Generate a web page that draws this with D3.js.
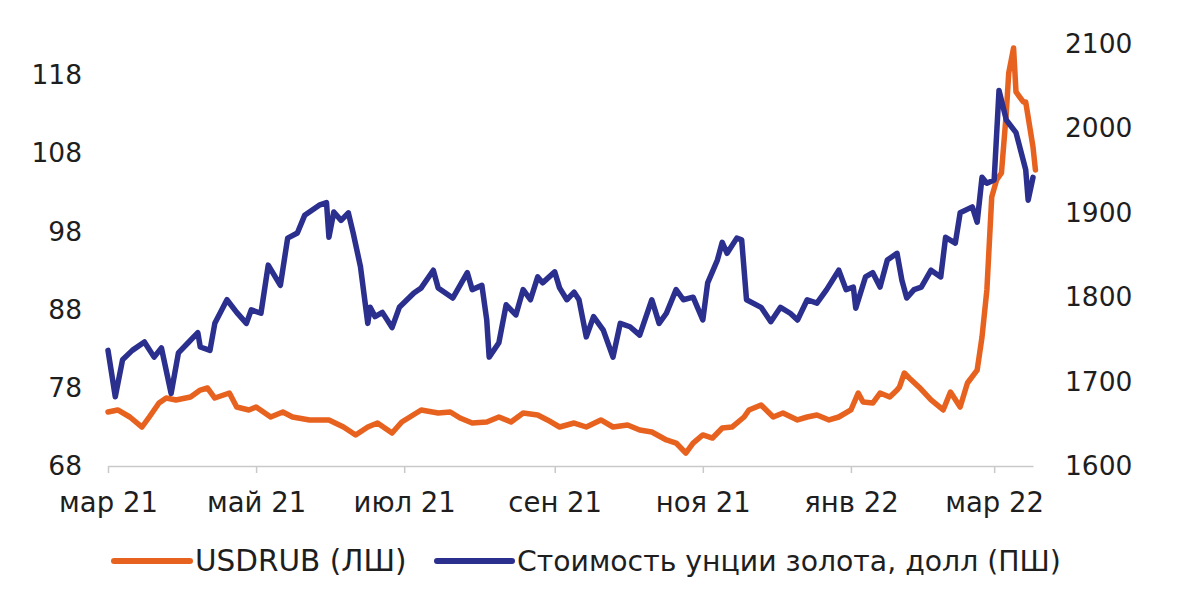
<!DOCTYPE html>
<html><head><meta charset="utf-8">
<script src="https://cdn.jsdelivr.net/npm/d3@7"></script>
<style>
body{margin:0;background:#fff;}
svg text{font-family:"DejaVu Sans",Verdana,sans-serif;fill:#1e1e1e;}
</style>
</head><body>
<svg id="chart" width="1200" height="592"></svg>
<script>
// ---- data ----
const goldDates = ["2021-03-01","2021-03-04","2021-03-07","2021-03-11","2021-03-16","2021-03-20","2021-03-23","2021-03-27","2021-03-30","2021-04-03","2021-04-07","2021-04-08","2021-04-12","2021-04-14","2021-04-19","2021-04-23","2021-04-27","2021-04-29","2021-05-03","2021-05-06","2021-05-11","2021-05-14","2021-05-18","2021-05-21","2021-05-24","2021-05-27","2021-05-30","2021-05-31","2021-06-02","2021-06-05","2021-06-08","2021-06-10","2021-06-13","2021-06-16","2021-06-17","2021-06-19","2021-06-22","2021-06-26","2021-06-29","2021-07-05","2021-07-08","2021-07-13","2021-07-15","2021-07-21","2021-07-27","2021-07-29","2021-08-02","2021-08-04","2021-08-05","2021-08-09","2021-08-12","2021-08-16","2021-08-19","2021-08-22","2021-08-25","2021-08-27","2021-09-01","2021-09-03","2021-09-06","2021-09-09","2021-09-11","2021-09-14","2021-09-17","2021-09-21","2021-09-25","2021-09-28","2021-10-02","2021-10-06","2021-10-11","2021-10-14","2021-10-17","2021-10-21","2021-10-24","2021-10-28","2021-11-01","2021-11-03","2021-11-07","2021-11-09","2021-11-11","2021-11-15","2021-11-17","2021-11-19","2021-11-25","2021-11-29","2021-12-03","2021-12-07","2021-12-10","2021-12-14","2021-12-18","2021-12-22","2021-12-27","2021-12-30","2022-01-02","2022-01-03","2022-01-07","2022-01-10","2022-01-13","2022-01-16","2022-01-20","2022-01-22","2022-01-24","2022-01-27","2022-01-30","2022-02-03","2022-02-07","2022-02-09","2022-02-13","2022-02-15","2022-02-20","2022-02-22","2022-02-24","2022-02-26","2022-03-01","2022-03-03","2022-03-06","2022-03-10","2022-03-14","2022-03-15","2022-03-17"];
const goldValues = [1737,1682,1726,1737,1747,1729,1740,1686,1734,1746,1758,1741,1737,1769,1797,1782,1769,1785,1781,1838,1814,1870,1876,1897,1903,1909,1912,1871,1901,1891,1900,1876,1836,1769,1788,1777,1782,1764,1788,1805,1811,1832,1811,1799,1829,1809,1814,1773,1729,1746,1791,1779,1809,1797,1824,1817,1830,1811,1797,1806,1797,1753,1777,1761,1729,1769,1765,1755,1797,1769,1781,1809,1797,1800,1773,1817,1844,1865,1852,1870,1868,1797,1788,1771,1788,1781,1773,1797,1793,1809,1832,1809,1812,1787,1824,1829,1812,1844,1852,1820,1799,1809,1812,1832,1824,1871,1864,1900,1907,1889,1942,1935,1939,2045,2010,1995,1951,1915,1942];

const rubDates = ["2021-03-01","2021-03-05","2021-03-10","2021-03-15","2021-03-18","2021-03-22","2021-03-25","2021-03-29","2021-04-04","2021-04-08","2021-04-11","2021-04-14","2021-04-20","2021-04-23","2021-04-28","2021-05-01","2021-05-07","2021-05-12","2021-05-16","2021-05-23","2021-05-31","2021-06-06","2021-06-11","2021-06-16","2021-06-20","2021-06-26","2021-06-30","2021-07-08","2021-07-15","2021-07-20","2021-07-24","2021-07-29","2021-08-04","2021-08-09","2021-08-14","2021-08-19","2021-08-25","2021-08-29","2021-09-03","2021-09-09","2021-09-14","2021-09-20","2021-09-25","2021-10-01","2021-10-06","2021-10-11","2021-10-17","2021-10-21","2021-10-25","2021-10-28","2021-11-01","2021-11-05","2021-11-09","2021-11-13","2021-11-18","2021-11-20","2021-11-25","2021-11-30","2021-12-04","2021-12-10","2021-12-14","2021-12-18","2021-12-23","2021-12-27","2022-01-01","2022-01-04","2022-01-06","2022-01-10","2022-01-13","2022-01-17","2022-01-20","2022-01-21","2022-01-23","2022-01-25","2022-01-29","2022-02-03","2022-02-08","2022-02-11","2022-02-15","2022-02-18","2022-02-22","2022-02-24","2022-02-26","2022-02-28","2022-03-02","2022-03-04","2022-03-06","2022-03-07","2022-03-09","2022-03-10","2022-03-13","2022-03-14","2022-03-17","2022-03-18"];
const rubValues = [74.91,75.17,74.27,72.99,74.27,76.06,76.70,76.45,76.83,77.72,77.98,76.70,77.34,75.55,75.17,75.55,74.27,74.91,74.27,73.89,73.89,72.99,71.97,72.99,73.50,72.22,73.63,75.17,74.78,74.91,74.14,73.50,73.63,74.27,73.63,74.78,74.53,73.89,72.99,73.50,72.99,73.89,72.99,73.25,72.61,72.35,71.33,70.94,69.66,70.94,71.97,71.58,72.86,72.99,74.27,75.17,75.81,74.27,74.78,73.89,74.27,74.53,73.89,74.27,75.17,77.34,76.19,76.06,77.34,76.83,77.72,78.11,79.90,79.26,78.11,76.45,75.17,77.47,75.55,78.62,80.28,84.51,90.52,102.42,104.60,105.49,113.17,118.29,121.49,115.86,114.58,114.58,108.82,105.88];

const xTickDates = ["2021-03-01","2021-05-01","2021-07-01","2021-09-01","2021-11-01","2022-01-01","2022-03-01"];
const xTickLabels = ["мар 21","май 21","июл 21","сен 21","ноя 21","янв 22","мар 22"];
const leftTicks = [68,78,88,98,108,118];
const rightTicks = [1600,1700,1800,1900,2000,2100];
const seriesNames = ["USDRUB (ЛШ)","Стоимость унции золота, долл (ПШ)"];

// ---- styles / layout ----
const COLOR_RUB = "#E8621F";
const COLOR_GOLD = "#2B2F8E";
const parse = d3.timeParse("%Y-%m-%d");

const svg = d3.select("#chart");
const x = d3.scaleTime().domain([parse("2021-03-01"), parse("2022-03-17")]).range([108, 1033]);
const yL = d3.scaleLinear().domain([68, 122]).range([466, 44]);
const yR = d3.scaleLinear().domain([1600, 2100]).range([466, 44]);

// x axis
const xAxis = d3.axisBottom(x)
  .tickValues(xTickDates.map(parse))
  .tickFormat((d,i) => xTickLabels[i])
  .tickSizeInner(7).tickSizeOuter(0).tickPadding(19);
const gx = svg.append("g").attr("transform","translate(0,466)").call(xAxis);
gx.select(".domain").attr("stroke","#c9c9c9").attr("stroke-width",1.5);
gx.selectAll(".tick line").attr("stroke","#c9c9c9").attr("stroke-width",1.5);
gx.selectAll(".tick text").attr("font-size",27.5).style("fill","#1e1e1e");

// left axis
const gl = svg.append("g").attr("transform","translate(108,0)")
  .call(d3.axisLeft(yL).tickValues(leftTicks).tickSize(0).tickPadding(26));
gl.select(".domain").remove();
gl.selectAll(".tick text").attr("font-size",26.5).style("fill","#1e1e1e");

// right axis
const gr = svg.append("g").attr("transform","translate(1040,0)")
  .call(d3.axisRight(yR).tickValues(rightTicks).tickFormat(d3.format("d")).tickSize(0).tickPadding(25));
gr.select(".domain").remove();
gr.selectAll(".tick text").attr("font-size",26.5).style("fill","#1e1e1e");

// lines
const rubData = rubDates.map((d,i)=>({date:parse(d), v:rubValues[i]}));
const goldData = goldDates.map((d,i)=>({date:parse(d), v:goldValues[i]}));

svg.append("path").datum(rubData)
  .attr("fill","none").attr("stroke",COLOR_RUB).attr("stroke-width",5.5)
  .attr("stroke-linejoin","round").attr("stroke-linecap","round")
  .attr("d", d3.line().x(d=>x(d.date)).y(d=>yL(d.v)));

svg.append("path").datum(goldData)
  .attr("fill","none").attr("stroke",COLOR_GOLD).attr("stroke-width",5.5)
  .attr("stroke-linejoin","round").attr("stroke-linecap","round")
  .attr("d", d3.line().x(d=>x(d.date)).y(d=>yR(d.v)));

// legend
const legend = [
  {name: seriesNames[0], color: COLOR_RUB, x1: 114, x2: 190, tx: 195, fs: 29.5},
  {name: seriesNames[1], color: COLOR_GOLD, x1: 437, x2: 512, tx: 517, fs: 28.3}
];
legend.forEach(l => {
  svg.append("line").attr("x1",l.x1).attr("x2",l.x2).attr("y1",561).attr("y2",561)
    .attr("stroke",l.color).attr("stroke-width",6).attr("stroke-linecap","round");
  svg.append("text").attr("x",l.tx).attr("y",561).attr("dy","0.35em")
    .attr("font-size",l.fs).text(l.name);
});
</script>
</body></html>
